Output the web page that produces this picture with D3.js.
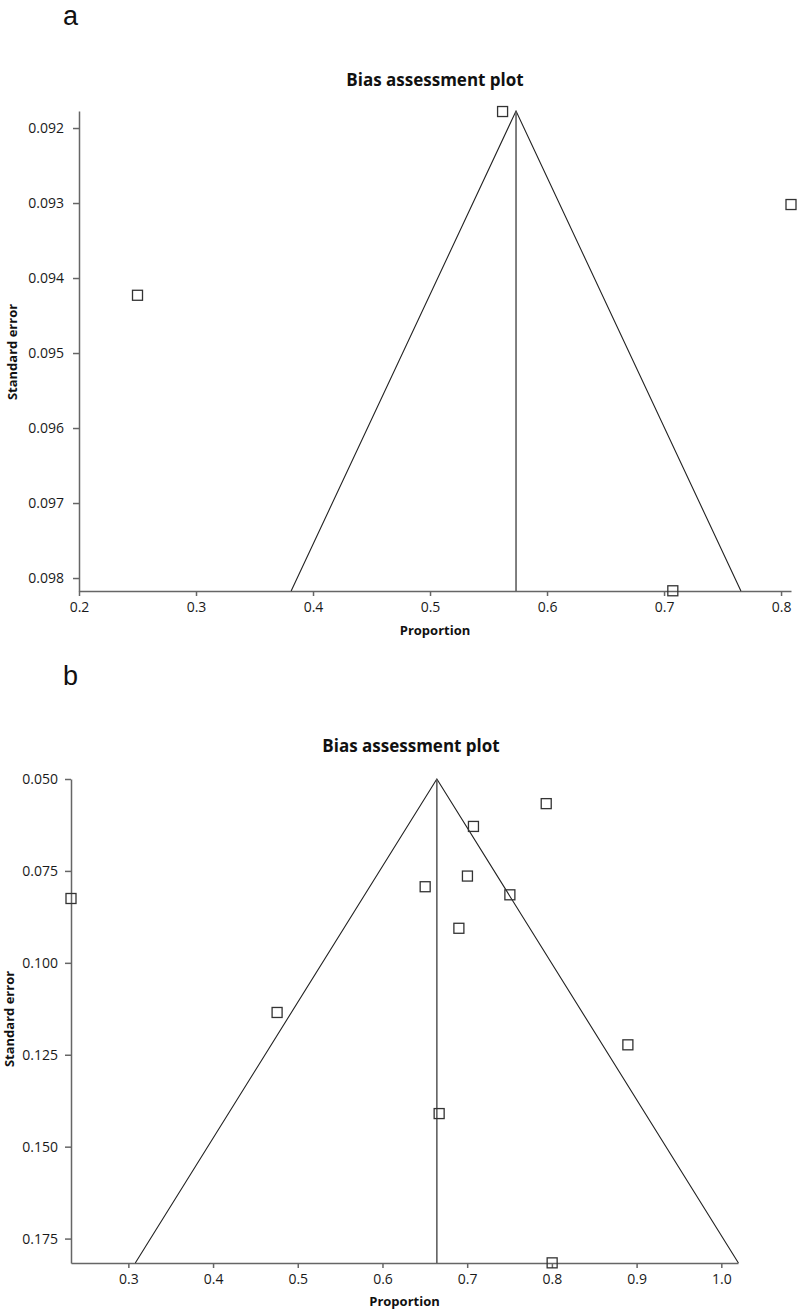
<!DOCTYPE html>
<html>
<head>
<meta charset="utf-8">
<title>Bias assessment plots</title>
<script src="https://d3js.org/d3.v7.min.js"></script>
<style>
  body { margin: 0; background: #fff; }
  svg { display: block; }
  .tick text { font: 14px "Open Sans", sans-serif; fill: #1a1a1a; }
  .domain, .tick line { stroke: #666; stroke-width: 1.5px; }
  .title { font: bold 17px "Open Sans", sans-serif; fill: #111; }
  .axlabel { font: bold 13px "Open Sans", sans-serif; fill: #111; }
  .panel { font: 27px "Liberation Sans", Arial, sans-serif; fill: #111; }
  .pt { fill: none; stroke: #333; stroke-width: 1.3px; }
  .funnel { stroke: #222; stroke-width: 1.1px; fill: none; }
  .pooled { stroke: #555; stroke-width: 1.5px; }
</style>
</head>
<body>
<svg id="chart" width="800" height="1313"></svg>
<script>
// panel a
var aProportion = [0.562, 0.8085, 0.250, 0.7075];
var aSE         = [0.09178, 0.09302, 0.09423, 0.09817];
var aXTicks = [0.2, 0.3, 0.4, 0.5, 0.6, 0.7, 0.8];
var aYTicks = [0.092, 0.093, 0.094, 0.095, 0.096, 0.097, 0.098];
var aXDomain = [0.2, 0.8085];
var aYDomain = [0.091773, 0.098173];
var aPooled = 0.5735;
var aHalfWidth = 0.1922;

// panel b
var bProportion = [0.7933, 0.7074, 0.7003, 0.6504, 0.7504, 0.6902, 0.2323, 0.4756, 0.8897, 0.6669, 0.8003];
var bSE         = [0.0567, 0.0629, 0.0764, 0.0793, 0.0815, 0.0906, 0.0825, 0.1135, 0.1223, 0.1410, 0.1816];
var bXTicks = [0.3, 0.4, 0.5, 0.6, 0.7, 0.8, 0.9, 1.0];
var bYTicks = [0.050, 0.075, 0.100, 0.125, 0.150, 0.175];
var bXDomain = [0.2323, 1.0197];
var bYDomain = [0.050, 0.18164];
var bPooled = 0.6642;
var bHalfWidth = 0.356;

var svg = d3.select("#chart");

function drawPanel(opt) {
    var x = d3.scaleLinear().domain(opt.xDomain).range([opt.left, opt.right]);
    var y = d3.scaleLinear().domain(opt.yDomain).range([opt.top, opt.bottom]);
    var g = svg.append("g");

    g.append("text").attr("class", "panel")
        .attr("x", 63).attr("y", opt.letterY).text(opt.letter);

    g.append("text").attr("class", "title")
        .attr("x", opt.titleX).attr("y", opt.titleY)
        .attr("text-anchor", "middle").text("Bias assessment plot");

    g.append("g")
        .attr("transform", "translate(0," + opt.bottom + ")")
        .call(d3.axisBottom(x).tickValues(opt.xTicks).tickFormat(d3.format(".1f")).tickSize(5).tickSizeOuter(0).tickPadding(6));

    g.append("g")
        .attr("transform", "translate(" + opt.left + ",0)")
        .call(d3.axisLeft(y).tickValues(opt.yTicks).tickFormat(d3.format(".3f")).tickSize(6).tickSizeOuter(0).tickPadding(opt.yPad));

    // funnel
    var yTop = opt.yDomain[0], yBot = opt.yDomain[1];
    var tri = [[opt.pooled - opt.hw, yBot], [opt.pooled, yTop], [opt.pooled + opt.hw, yBot]];
    g.append("path").attr("class", "funnel")
        .attr("d", d3.line().x(function(d) { return x(d[0]); }).y(function(d) { return y(d[1]); })(tri));
    g.append("line").attr("class", "pooled")
        .attr("x1", x(opt.pooled)).attr("x2", x(opt.pooled))
        .attr("y1", y(yTop)).attr("y2", y(yBot));

    var s = 10;
    g.selectAll("rect.pt").data(opt.px).enter().append("rect")
        .attr("class", "pt")
        .attr("x", function(d) { return x(d) - s / 2; })
        .attr("y", function(d, i) { return y(opt.py[i]) - s / 2; })
        .attr("width", s).attr("height", s);

    g.append("text").attr("class", "axlabel")
        .attr("x", (opt.left + opt.right) / 2).attr("y", opt.xLabelY)
        .attr("text-anchor", "middle").text("Proportion");

    g.append("text").attr("class", "axlabel")
        .attr("transform", "translate(" + opt.yLabelX + "," + opt.yLabelY + ") rotate(-90)")
        .attr("text-anchor", "middle").text("Standard error");
}

drawPanel({
    letter: "a", letterY: 25,
    titleX: 435, titleY: 86,
    left: 79, right: 791, top: 111, bottom: 591,
    xDomain: aXDomain, yDomain: aYDomain, xTicks: aXTicks, yTicks: aYTicks,
    pooled: aPooled, hw: aHalfWidth, px: aProportion, py: aSE,
    yPad: 9, xLabelY: 635, yLabelX: 17, yLabelY: 352
});

drawPanel({
    letter: "b", letterY: 685,
    titleX: 411, titleY: 752,
    left: 71, right: 738, top: 779, bottom: 1263,
    xDomain: bXDomain, yDomain: bYDomain, xTicks: bXTicks, yTicks: bYTicks,
    pooled: bPooled, hw: bHalfWidth, px: bProportion, py: bSE,
    yPad: 7, xLabelY: 1306, yLabelX: 14, yLabelY: 1019
});
</script>
</body>
</html>
